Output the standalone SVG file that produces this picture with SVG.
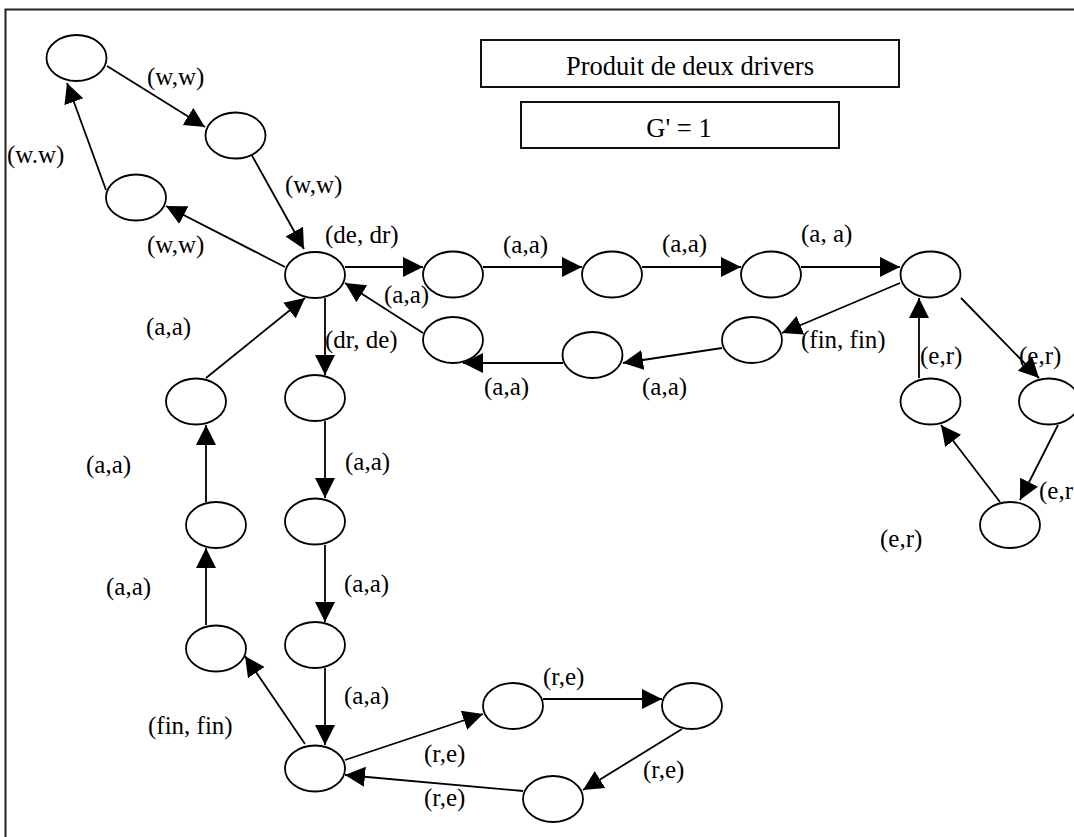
<svg xmlns="http://www.w3.org/2000/svg" width="1074" height="837" viewBox="0 0 1074 837">
<style>
.n{fill:#fff;stroke:#000;stroke-width:1.8}
.e{stroke:#000;stroke-width:1.8;fill:none;marker-end:url(#ah)}
.t{font-family:"Liberation Serif","Times New Roman",serif;font-size:25px;fill:#000}
.tt{font-size:26.5px}
.b{fill:#fff;stroke:#111;stroke-width:2}
</style>
<defs>
<marker id="ah" markerUnits="userSpaceOnUse" markerWidth="22" markerHeight="22" refX="20" refY="10" orient="auto">
<path d="M0,0 L20,10 L0,20 z" fill="#000"/>
</marker>
</defs>
<rect x="0" y="0" width="1074" height="837" fill="#fff"/>
<rect x="5.5" y="9.5" width="1090" height="850" fill="none" stroke="#222" stroke-width="2"/>
<g id="title">
<rect class="b" x="481" y="40" width="418" height="47"/>
<text class="t tt" x="690" y="75" text-anchor="middle">Produit de deux drivers</text>
</g>
<g id="gprime">
<rect class="b" x="521" y="102" width="318" height="46"/>
<text class="t tt" x="679" y="137" text-anchor="middle">G' = 1</text>
</g>
<g id="connectors">
<line class="e" x1="107" y1="66" x2="205" y2="127"/>
<line class="e" x1="245" y1="143" x2="304" y2="249"/>
<line class="e" x1="285" y1="267" x2="166" y2="206"/>
<line class="e" x1="106" y1="190" x2="67" y2="83"/>
<line class="e" x1="345" y1="267" x2="423" y2="267"/>
<line class="e" x1="483" y1="267" x2="582" y2="267"/>
<line class="e" x1="642" y1="267" x2="741" y2="267"/>
<line class="e" x1="801" y1="267" x2="900" y2="267"/>
<line class="e" x1="900" y1="283" x2="782" y2="333"/>
<line class="e" x1="722" y1="348" x2="623" y2="363"/>
<line class="e" x1="563" y1="363" x2="463" y2="363"/>
<line class="e" x1="423" y1="333" x2="345" y2="283"/>
<line class="e" x1="325" y1="298" x2="325" y2="375"/>
<line class="e" x1="325" y1="421" x2="325" y2="498"/>
<line class="e" x1="325" y1="545" x2="325" y2="622"/>
<line class="e" x1="325" y1="668" x2="325" y2="745"/>
<line class="e" x1="305" y1="744" x2="245" y2="656"/>
<line class="e" x1="206" y1="625" x2="206" y2="548"/>
<line class="e" x1="206" y1="502" x2="206" y2="425"/>
<line class="e" x1="206" y1="378" x2="305" y2="298"/>
<line class="e" x1="345" y1="760" x2="483" y2="714"/>
<line class="e" x1="543" y1="699" x2="662" y2="699"/>
<line class="e" x1="682" y1="729" x2="583" y2="790"/>
<line class="e" x1="523" y1="791" x2="345" y2="775"/>
<line class="e" x1="961" y1="298" x2="1039" y2="378"/>
<line class="e" x1="1058" y1="425" x2="1020" y2="500"/>
<line class="e" x1="1000" y1="502" x2="941" y2="425"/>
<line class="e" x1="919" y1="378" x2="919" y2="298"/>
</g>
<g id="labels">
<text class="t" x="147" y="85">(w,w)</text>
<text class="t" x="7" y="163">(w.w)</text>
<text class="t" x="285" y="193">(w,w)</text>
<text class="t" x="147" y="253">(w,w)</text>
<text class="t" x="325" y="243">(de, dr)</text>
<text class="t" x="503" y="253">(a,a)</text>
<text class="t" x="662" y="252">(a,a)</text>
<text class="t" x="801" y="242">(a, a)</text>
<text class="t" x="384" y="303">(a,a)</text>
<text class="t" x="325" y="348">(dr, de)</text>
<text class="t" x="801" y="348">(fin, fin)</text>
<text class="t" x="484" y="395">(a,a)</text>
<text class="t" x="642" y="395">(a,a)</text>
<text class="t" x="920" y="364">(e,r)</text>
<text class="t" x="1019" y="364">(e,r)</text>
<text class="t" x="1039" y="499">(e,r</text>
<text class="t" x="880" y="547">(e,r)</text>
<text class="t" x="146" y="335">(a,a)</text>
<text class="t" x="86" y="473">(a,a)</text>
<text class="t" x="345" y="470">(a,a)</text>
<text class="t" x="106" y="595">(a,a)</text>
<text class="t" x="344" y="592">(a,a)</text>
<text class="t" x="344" y="704">(a,a)</text>
<text class="t" x="148" y="734">(fin, fin)</text>
<text class="t" x="543" y="685">(r,e)</text>
<text class="t" x="424" y="762">(r,e)</text>
<text class="t" x="424" y="806">(r,e)</text>
<text class="t" x="643" y="778">(r,e)</text>
</g>
<g id="n1"><ellipse class="n" cx="76.5" cy="58" rx="30" ry="23"/></g>
<g id="n2"><ellipse class="n" cx="235.5" cy="135.5" rx="30" ry="23"/></g>
<g id="n3"><ellipse class="n" cx="136" cy="197.5" rx="30" ry="23"/></g>
<g id="hub"><ellipse class="n" cx="315" cy="275" rx="30" ry="23"/></g>
<g id="n5"><ellipse class="n" cx="453" cy="274.5" rx="30" ry="23"/></g>
<g id="n6"><ellipse class="n" cx="612" cy="274.5" rx="30" ry="23"/></g>
<g id="n7"><ellipse class="n" cx="771" cy="274.5" rx="30" ry="23"/></g>
<g id="n8"><ellipse class="n" cx="930.5" cy="274.5" rx="30" ry="23"/></g>
<g id="m1"><ellipse class="n" cx="453" cy="340" rx="30" ry="23"/></g>
<g id="m2"><ellipse class="n" cx="592.5" cy="355" rx="30" ry="23"/></g>
<g id="m3"><ellipse class="n" cx="752" cy="340" rx="30" ry="23"/></g>
<g id="e1"><ellipse class="n" cx="930.5" cy="401.5" rx="30" ry="23"/></g>
<g id="e2"><ellipse class="n" cx="1049" cy="401.5" rx="30" ry="23"/></g>
<g id="e3"><ellipse class="n" cx="1010" cy="525" rx="30" ry="23"/></g>
<g id="a1"><ellipse class="n" cx="196" cy="401.5" rx="30" ry="23"/></g>
<g id="a2"><ellipse class="n" cx="216" cy="525" rx="30" ry="23"/></g>
<g id="a3"><ellipse class="n" cx="216" cy="648.5" rx="30" ry="23"/></g>
<g id="b1"><ellipse class="n" cx="315" cy="398" rx="30" ry="23"/></g>
<g id="b2"><ellipse class="n" cx="315" cy="521.5" rx="30" ry="23"/></g>
<g id="b3"><ellipse class="n" cx="315" cy="645" rx="30" ry="23"/></g>
<g id="lhub"><ellipse class="n" cx="315" cy="768.5" rx="30" ry="23"/></g>
<g id="r1"><ellipse class="n" cx="513" cy="706" rx="30" ry="23"/></g>
<g id="r2"><ellipse class="n" cx="692" cy="706" rx="30" ry="23"/></g>
<g id="r3"><ellipse class="n" cx="553" cy="799" rx="30" ry="23"/></g>
</svg>
